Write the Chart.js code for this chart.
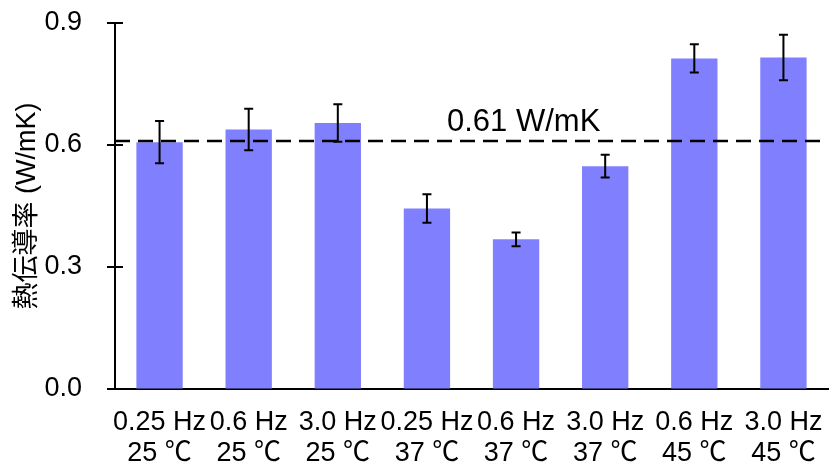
<!DOCTYPE html>
<html>
<head>
<meta charset="utf-8">
<script src="https://cdn.jsdelivr.net/npm/chart.js@4.4.0/dist/chart.umd.min.js"></script>
<style>
html, body { margin: 0; padding: 0; background: #fff; }
</style>
</head>
<body>
<canvas id="myChart" width="838" height="471"></canvas>
<script>
const freqLabels = ["0.25 Hz", "0.6 Hz", "3.0 Hz", "0.25 Hz", "0.6 Hz", "3.0 Hz", "0.6 Hz", "3.0 Hz"];
const tempLabels = ["25 ℃", "25 ℃", "25 ℃", "37 ℃", "37 ℃", "37 ℃", "45 ℃", "45 ℃"];
const conductivity = [0.607, 0.638, 0.654, 0.444, 0.368, 0.548, 0.813, 0.815];
const errors = [0.052, 0.051, 0.046, 0.035, 0.017, 0.028, 0.035, 0.056];
const yTicks = [0, 0.3, 0.6, 0.9];
const refValue = 0.61;
const refLabel = "0.61 W/mK";

const fontFamily = "'Liberation Sans', Arial, 'Noto Sans CJK JP', sans-serif";
Chart.defaults.font.family = fontFamily;
Chart.defaults.color = '#000';

// tick marks crossing the y axis, error bars and the reference line
const overlay = {
  id: 'overlay',
  afterDatasetsDraw(chart) {
    const ctx = chart.ctx;
    const area = chart.chartArea;
    const y = chart.scales.y;
    const meta = chart.getDatasetMeta(0);
    ctx.save();
    ctx.strokeStyle = '#000';

    ctx.lineWidth = 2;
    yTicks.forEach(function(v) {
      const py = Math.round(y.getPixelForValue(v));
      ctx.beginPath();
      ctx.moveTo(area.left - 8, py);
      ctx.lineTo(area.left + 8, py);
      ctx.stroke();
    });

    meta.data.forEach(function(bar, i) {
      const top = y.getPixelForValue(conductivity[i] + errors[i]);
      const bot = y.getPixelForValue(conductivity[i] - errors[i]);
      ctx.beginPath();
      ctx.moveTo(bar.x, top);
      ctx.lineTo(bar.x, bot);
      ctx.moveTo(bar.x - 4.5, top);
      ctx.lineTo(bar.x + 4.5, top);
      ctx.moveTo(bar.x - 4.5, bot);
      ctx.lineTo(bar.x + 4.5, bot);
      ctx.stroke();
    });

    const ry = y.getPixelForValue(refValue);
    ctx.lineWidth = 2.5;
    ctx.setLineDash([15, 8]);
    ctx.beginPath();
    ctx.moveTo(area.left, ry);
    ctx.lineTo(area.right, ry);
    ctx.stroke();
    ctx.setLineDash([]);

    ctx.fillStyle = '#000';
    ctx.font = '31px ' + fontFamily;
    ctx.textAlign = 'left';
    ctx.textBaseline = 'alphabetic';
    ctx.fillText(refLabel, area.left + 332, ry - 10);
    ctx.restore();
  }
};

new Chart("myChart", {
  type: "bar",
  data: {
    labels: freqLabels.map(function(f, i) { return [f, tempLabels[i]]; }),
    datasets: [{
      data: conductivity,
      backgroundColor: "#8080ff",
      barPercentage: 0.52,
      categoryPercentage: 1.0
    }]
  },
  options: {
    responsive: false,
    animation: false,
    layout: { padding: { top: 23, right: 10, left: 0, bottom: 0 } },
    plugins: {
      legend: { display: false },
      tooltip: { enabled: false }
    },
    scales: {
      x: {
        grid: { display: true, drawOnChartArea: false, drawTicks: false },
        border: { color: '#000', width: 2 },
        ticks: {
          font: { size: 27, lineHeight: 1.15 },
          padding: 18,
          maxRotation: 0,
          autoSkip: false
        },
        afterFit: function(s) {
          s.height = 82;
          s.paddingLeft = 0;
          s.paddingRight = 0;
        }
      },
      y: {
        min: 0,
        max: 0.9,
        grid: { drawOnChartArea: false, tickColor: 'rgba(0,0,0,0)', tickLength: 31 },
        border: { color: '#000', width: 2 },
        ticks: {
          font: { size: 27 },
          padding: 2,
          callback: function(v) { return Number(v).toFixed(1); }
        },
        afterBuildTicks: function(s) {
          s.ticks = yTicks.map(function(v) { return { value: v }; });
        },
        title: {
          display: true,
          text: "熱伝導率 (W/mK)",
          font: { size: 27 },
          padding: { top: 11, bottom: 0 }
        },
        afterFit: function(s) { s.width = 115; }
      }
    }
  },
  plugins: [overlay]
});
</script>
</body>
</html>
